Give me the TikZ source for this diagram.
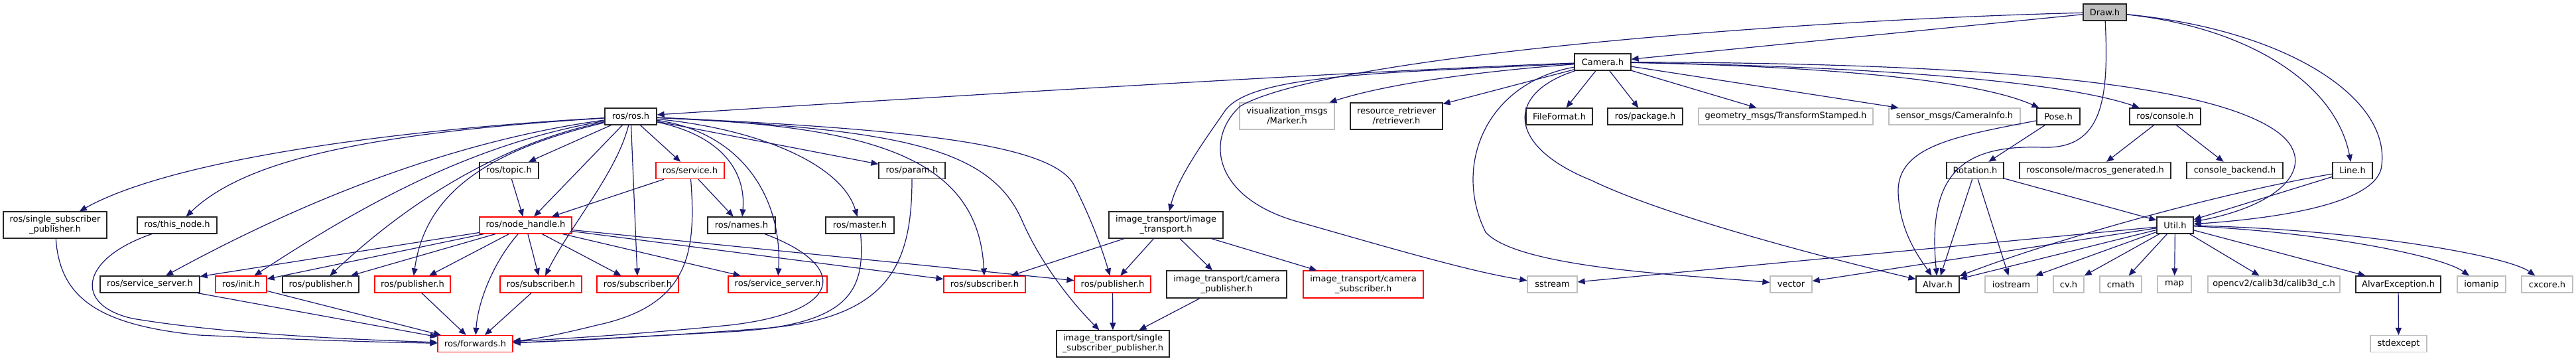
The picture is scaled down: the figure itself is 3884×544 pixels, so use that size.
\documentclass[tikz,border=0pt]{standalone}
\usepackage{fontspec}
\setmainfont{DejaVu Sans}
\usetikzlibrary{arrows.meta}
\definecolor{edgec}{HTML}{191970}
\definecolor{grayb}{HTML}{BFBFBF}
\begin{document}
\begin{tikzpicture}[x=0.5pt,y=-0.5pt,
  base/.style={rectangle, inner sep=0pt, line width=0.6pt, font=\fontsize{6.5}{7.5}\selectfont, align=center, anchor=center},
  sz/.style 2 args={minimum width={#1*0.5pt}, minimum height={#2*0.5pt}},
  blk/.style={base, draw=black!85},
  redb/.style={base, draw=red},
  gryb/.style={base, draw=grayb},
  edge/.style={draw=edgec, line width=0.6pt, -{Triangle[length=5.5pt,width=4.5pt]}},
]
\fill[white] (0,0) rectangle (3884,544);
\useasboundingbox (0,0) rectangle (3884,544);
% row 0-1
\node[blk, fill=grayb, sz={65}{25}] (draw) at (3173.5,18.5) {Draw.h};
\node[blk, sz={85}{25}] (camera) at (2416.5,93.5) {Camera.h};
% row 2
\node[blk, sz={78}{25}] (ros) at (951,175.5) {ros/ros.h};
\node[gryb, sz={143}{40}] (vis) at (1940.5,175) {visualization\_msgs\\/Marker.h};
\node[blk, sz={139}{40}] (resret) at (2105.5,175) {resource\_retriever\\/retriever.h};
\node[blk, sz={100}{25}] (fileformat) at (2351,175.5) {FileFormat.h};
\node[blk, sz={113}{25}] (package) at (2480.5,175.5) {ros/package.h};
\node[gryb, sz={263}{25}] (geom) at (2692.5,175.5) {geometry\_msgs/TransformStamped.h};
\node[gryb, sz={198}{25}] (caminfo) at (2947,175.5) {sensor\_msgs/CameraInfo.h};
\node[blk, sz={65}{25}] (pose) at (3103.5,175.5) {Pose.h};
\node[blk, sz={107}{25}] (console) at (3264.5,175.5) {ros/console.h};
% row 3
\node[blk, sz={89}{25}] (topic) at (767.5,257) {ros/topic.h};
\node[redb, sz={103}{25}] (service) at (1040.5,257) {ros/service.h};
\node[blk, sz={100}{25}] (param) at (1375,257) {ros/param.h};
\node[blk, sz={86}{25}] (rotation) at (2978,257) {Rotation.h};
\node[blk, sz={228}{25}] (macros) at (3159,257) {rosconsole/macros\_generated.h};
\node[blk, sz={145}{25}] (backend) at (3369.5,257) {console\_backend.h};
\node[blk, sz={60}{25}] (line) at (3547,257) {Line.h};
% row 3.5
\node[blk, sz={156}{40}] (ssp) at (83,339) {ros/single\_subscriber\\\_publisher.h};
\node[blk, sz={120}{25}] (thisnode) at (267,339.5) {ros/this\_node.h};
\node[redb, sz={139}{25}] (nodehandle) at (792.5,339.5) {ros/node\_handle.h};
\node[blk, sz={102}{25}] (names) at (1118,339.5) {ros/names.h};
\node[blk, sz={103}{25}] (master) at (1296.5,339.5) {ros/master.h};
\node[blk, sz={172}{40}] (it) at (1758,339) {image\_transport/image\\\_transport.h};
\node[blk, sz={55}{25}] (util) at (3279.5,339.5) {Util.h};
% row 4
\node[blk, sz={150}{25}] (ss1) at (226,428.5) {ros/service\_server.h};
\node[redb, sz={77}{25}] (init) at (363.5,428.5) {ros/init.h};
\node[blk, sz={115}{25}] (pub1) at (483.5,428.5) {ros/publisher.h};
\node[redb, sz={114}{25}] (pub2) at (622,428.5) {ros/publisher.h};
\node[redb, sz={123}{25}] (sub1) at (815.5,428.5) {ros/subscriber.h};
\node[redb, sz={123}{25}] (sub2) at (961.5,428.5) {ros/subscriber.h};
\node[redb, sz={149}{25}] (ss2) at (1172.5,428.5) {ros/service\_server.h};
\node[redb, sz={123}{25}] (sub3) at (1484.5,428.5) {ros/subscriber.h};
\node[redb, sz={115}{25}] (pub3) at (1677.5,428.5) {ros/publisher.h};
\node[blk, sz={181}{41}] (campub) at (1849.5,428.5) {image\_transport/camera\\\_publisher.h};
\node[redb, sz={181}{41}] (camsub) at (2055.5,428.5) {image\_transport/camera\\\_subscriber.h};
\node[gryb, sz={75}{25}] (sstream) at (2340.5,428.5) {sstream};
\node[gryb, sz={63}{25}] (vector) at (2700.5,428.5) {vector};
\node[blk, sz={65}{25}] (alvar) at (2921.5,428.5) {Alvar.h};
\node[gryb, sz={79}{25}] (iostream) at (3032.5,428.5) {iostream};
\node[gryb, sz={46}{25}] (cvh) at (3119,428.5) {cv.h};
\node[gryb, sz={63}{25}] (cmath) at (3197.5,428.5) {cmath};
\node[gryb, sz={51}{25}] (map) at (3278.5,428.5) {map};
\node[gryb, sz={199}{25}] (calib) at (3428.5,428.5) {opencv2/calib3d/calib3d\_c.h};
\node[blk, sz={128}{25}] (alvarexc) at (3616,428.5) {AlvarException.h};
\node[gryb, sz={73}{25}] (iomanip) at (3741.5,428.5) {iomanip};
\node[gryb, sz={77}{25}] (cxcore) at (3840.5,428.5) {cxcore.h};
% row 5
\node[redb, sz={113}{25}] (forwards) at (716.5,518) {ros/forwards.h};
\node[blk, sz={170}{40}] (itssp) at (1678,518) {image\_transport/single\\\_subscriber\_publisher.h};
\node[gryb, sz={85}{25}] (stdexcept) at (3616.5,518) {stdexcept};

% Draw.h
\draw[edge] (draw) -- (camera);
\draw[edge] (draw) .. controls (2700,30) and (2000,85) .. (1870,160) .. controls (1815,210) and (1830,300) .. (1960,335) .. controls (2100,375) and (2220,410) .. (sstream);
\draw[edge] (draw) .. controls (3180,150) and (3170,225) .. (3080,222) .. controls (2960,218) and (2905,260) .. (alvar);
\draw[edge] (draw) .. controls (3380,40) and (3520,120) .. (line);
\draw[edge] (draw) .. controls (3450,45) and (3610,150) .. (3590,255) .. controls (3575,310) and (3420,330) .. (util);
% Camera.h
\draw[edge] (camera) .. controls (2100,105) and (1500,140) .. (ros);
\draw[edge] (camera) .. controls (2200,110) and (2080,130) .. (vis);
\draw[edge] (camera) -- (resret);
\draw[edge] (camera) -- (fileformat);
\draw[edge] (camera) -- (package);
\draw[edge] (camera) -- (geom);
\draw[edge] (camera) -- (caminfo);
\draw[edge] (camera) .. controls (2750,100) and (2980,120) .. (pose);
\draw[edge] (camera) .. controls (2800,100) and (3100,120) .. (console);
\draw[edge] (camera) .. controls (2950,95) and (3300,120) .. (3420,190) .. controls (3500,235) and (3460,305) .. (util);
\draw[edge] (camera) .. controls (2100,110) and (1880,110) .. (1845,170) .. controls (1810,220) and (1775,270) .. (it);
\draw[edge] (camera) .. controls (2240,125) and (2190,250) .. (2240,350) .. controls (2290,405) and (2550,415) .. (vector);
\draw[edge] (camera) .. controls (2270,140) and (2270,220) .. (2400,272) .. controls (2520,330) and (2780,395) .. (alvar);
% Pose, Rotation, console, Line
\draw[edge] (pose) -- (rotation);
\draw[edge] (pose) .. controls (2950,205) and (2860,220) .. (2862,290) .. controls (2864,350) and (2895,390) .. (alvar);
\draw[edge] (rotation) -- (alvar);
\draw[edge] (rotation) -- (iostream);
\draw[edge] (rotation) -- (util);
\draw[edge] (console) -- (macros);
\draw[edge] (console) -- (backend);
\draw[edge] (line) -- (util);
\draw[edge] (line) .. controls (3350,290) and (3100,360) .. (alvar);
% Util.h
\foreach \t in {sstream,vector,alvar,iostream,cvh,cmath,map,calib,alvarexc}
  \draw[edge] (util) -- (\t);
\draw[edge] (util) .. controls (3500,350) and (3680,385) .. (iomanip);
\draw[edge] (util) .. controls (3550,345) and (3780,385) .. (cxcore);
\draw[edge] (alvarexc) -- (stdexcept);
% ros/ros.h
\draw[edge] (ros) -- (topic);
\draw[edge] (ros) -- (service);
\draw[edge] (ros) -- (nodehandle);
\draw[edge] (ros) .. controls (600,195) and (260,240) .. (ssp);
\draw[edge] (ros) .. controls (560,200) and (370,240) .. (thisnode);
\draw[edge] (ros) .. controls (700,210) and (480,290) .. (ss1);
\draw[edge] (ros) .. controls (720,215) and (560,300) .. (init);
\draw[edge] (ros) .. controls (760,215) and (620,300) .. (pub1);
\draw[edge] (ros) .. controls (720,230) and (640,300) .. (pub2);
\draw[edge] (ros) .. controls (930,260) and (860,340) .. (sub1);
\draw[edge] (ros) -- (sub2);
\draw[edge] (ros) .. controls (1090,205) and (1125,260) .. (names);
\draw[edge] (ros) .. controls (1120,200) and (1180,300) .. (ss2);
\draw[edge] (ros) .. controls (1150,195) and (1270,250) .. (master);
\draw[edge] (ros) -- (param);
\draw[edge] (ros) .. controls (1300,190) and (1475,230) .. (sub3);
\draw[edge] (ros) .. controls (1350,195) and (1490,220) .. (1540,330) .. controls (1570,400) and (1620,460) .. (itssp);
\draw[edge] (ros) .. controls (1400,195) and (1590,220) .. (1620,280) .. controls (1645,330) and (1660,370) .. (pub3);
% topic, service
\draw[edge] (topic) -- (nodehandle);
\draw[edge] (service) -- (nodehandle);
\draw[edge] (service) -- (names);
\draw[edge] (service) .. controls (1050,380) and (1040,460) .. (900,490) .. controls (840,505) and (800,512) .. (forwards);
% node_handle
\foreach \t in {ss1,init,pub1,pub2,sub1,sub2,ss2,sub3,pub3}
  \draw[edge] (nodehandle) -- (\t);
\draw[edge] (nodehandle) .. controls (740,400) and (720,460) .. (forwards);
% into forwards
\draw[edge] (ssp) .. controls (90,450) and (150,490) .. (300,505) .. controls (450,512) and (580,516) .. (forwards);
\draw[edge] (thisnode) .. controls (120,390) and (110,460) .. (200,480) .. controls (350,505) and (550,512) .. (forwards);
\draw[edge] (ss1) -- (forwards);
\draw[edge] (init) -- (forwards);
\draw[edge] (pub2) -- (forwards);
\draw[edge] (sub1) -- (forwards);
\draw[edge] (names) .. controls (1280,400) and (1275,470) .. (1100,490) .. controls (950,505) and (820,512) .. (forwards);
\draw[edge] (master) .. controls (1305,440) and (1280,490) .. (1100,500) .. controls (950,508) and (820,515) .. (forwards);
\draw[edge] (param) .. controls (1375,400) and (1340,480) .. (1150,495) .. controls (980,508) and (830,515) .. (forwards);
% image_transport
\draw[edge] (it) -- (sub3);
\draw[edge] (it) -- (pub3);
\draw[edge] (it) -- (campub);
\draw[edge] (it) -- (camsub);
\draw[edge] (campub) -- (itssp);
\draw[edge] (pub3) -- (itssp);
\end{tikzpicture}
\end{document}
